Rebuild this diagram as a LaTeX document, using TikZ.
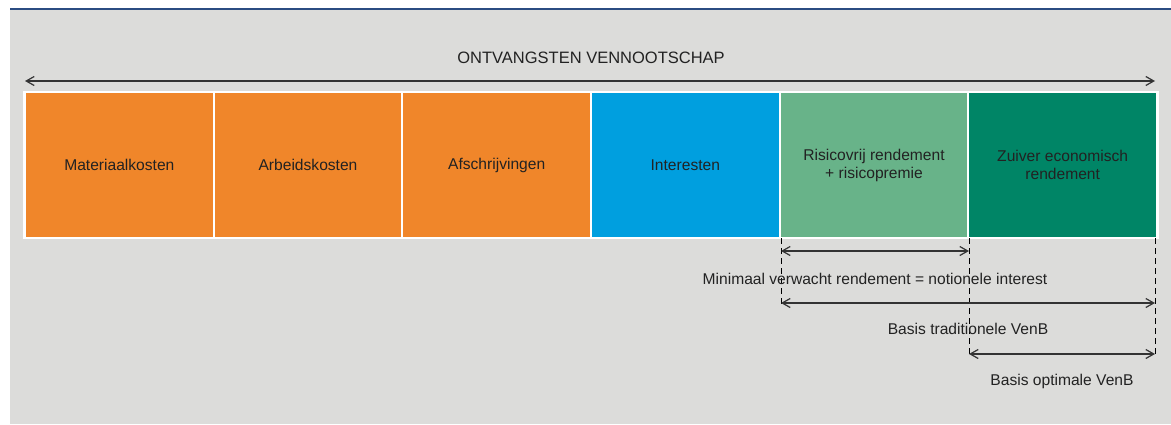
\documentclass[tikz,border=0pt]{standalone}
\usepackage{fontspec}
\setmainfont{Liberation Sans}
\usetikzlibrary{arrows.meta}
\definecolor{bg}{HTML}{DCDCDA}
\definecolor{topline}{HTML}{2B4C82}
\definecolor{orangebox}{HTML}{F0862A}
\definecolor{bluebox}{HTML}{009FDF}
\definecolor{lightgreen}{HTML}{68B389}
\definecolor{darkgreen}{HTML}{008566}
\definecolor{txt}{HTML}{222222}
\definecolor{arr}{HTML}{333333}
\begin{document}
\begin{tikzpicture}[x=1pt,y=-1pt,
  box/.style={rectangle, draw=white, line width=2pt, minimum width=188.67pt, minimum height=146pt, inner sep=0pt, align=center, font=\fontsize{15.6}{18}\selectfont, text=txt},
  dim/.style={{Straight Barb[length=8pt,width=9pt]}-{Straight Barb[length=8pt,width=9pt]}, line width=1.2pt, draw=arr},
  guide/.style={dash pattern=on 6pt off 4pt, line width=0.9pt, draw=black},
  lbl/.style={font=\fontsize{15.6}{18}\selectfont, text=txt, inner sep=0pt}]
\useasboundingbox (0,0) rectangle (1171,424);
\fill[bg] (10,9) rectangle (1171,424);
\draw[topline, line width=1.8pt] (10,9) -- (1171,9);
\fill[white] (23,91) rectangle (1159,239);
% boxes
\node[box, fill=orangebox] (b1) at (119.33,165) {Materiaalkosten};
\node[box, fill=orangebox] (b2) at (308,165) {Arbeidskosten};
\node[box, fill=orangebox] (b3) at (496.67,165) {Afschrijvingen};
\node[box, fill=bluebox] (b4) at (685.33,165) {Interesten};
\node[box, fill=lightgreen] (b5) at (874,165) {Risicovrij rendement\\+ risicopremie};
\node[box, fill=darkgreen] (b6) at (1062.67,165) {Zuiver economisch\\rendement};
% title arrow
\node[lbl, font=\fontsize{16.5}{18}\selectfont] (title) at (591,58) {ONTVANGSTEN VENNOOTSCHAP};
\coordinate (tl) at (25,81);
\coordinate (tr) at (1155,81);
\draw[dim] (tl) -- (tr);
% guides
\coordinate (g1t) at (781,238);
\coordinate (g1b) at (781,304);
\coordinate (g2t) at (969,238);
\coordinate (g2b) at (969,355);
\coordinate (g3t) at (1155,238);
\coordinate (g3b) at (1155,355);
\draw[guide] (g1t) -- (g1b);
\draw[guide] (g2t) -- (g2b);
\draw[guide] (g3t) -- (g3b);
% dimension arrows
\coordinate (a1l) at (781,251);
\coordinate (a1r) at (969,251);
\draw[dim] (a1l) -- (a1r);
\node[lbl] (l1) at (875,279) {Minimaal verwacht rendement = notionele interest};
\coordinate (a2l) at (781,303);
\coordinate (a2r) at (1155,303);
\draw[dim] (a2l) -- (a2r);
\node[lbl] (l2) at (968,329) {Basis traditionele VenB};
\coordinate (a3l) at (969,354);
\coordinate (a3r) at (1155,354);
\draw[dim] (a3l) -- (a3r);
\node[lbl] (l3) at (1062,381) {Basis optimale VenB};
\end{tikzpicture}
\end{document}
